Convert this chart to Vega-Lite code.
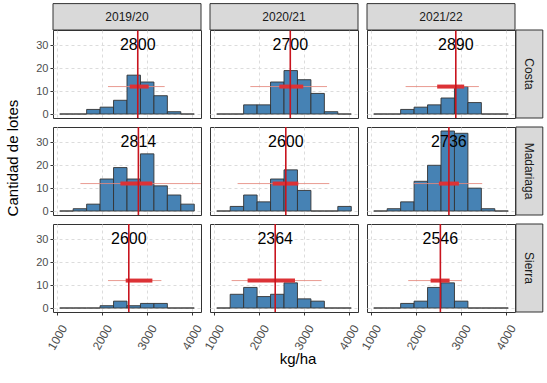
{
  "$schema": "https://vega.github.io/schema/vega-lite/v6.json",
  "background": "white",
  "padding": {"left": 5, "right": 2, "top": 2, "bottom": 5},
  "config": {
    "font": "Liberation Sans",
    "view": {"stroke": "#333333", "strokeWidth": 1},
    "axis": {
      "domain": false,
      "gridColor": "#dcdcdc",
      "gridDash": [3, 3],
      "gridWidth": 1,
      "tickColor": "#333333",
      "tickSize": 3,
      "labelColor": "#4d4d4d",
      "labelFontSize": 11,
      "labelOverlap": false,
      "title": null
    },
    "header": {"titleFontSize": 15, "titleFontWeight": "normal", "titleColor": "#000000", "titleFont": "Liberation Sans"}
  },
  "data": {
    "values": [
      {"t":"h","zona":"Costa","campana":"2019/20","x0":1060,"x1":1360,"n":0},
      {"t":"h","zona":"Costa","campana":"2019/20","x0":1360,"x1":1660,"n":0},
      {"t":"h","zona":"Costa","campana":"2019/20","x0":1660,"x1":1960,"n":2},
      {"t":"h","zona":"Costa","campana":"2019/20","x0":1960,"x1":2260,"n":3},
      {"t":"h","zona":"Costa","campana":"2019/20","x0":2260,"x1":2560,"n":6},
      {"t":"h","zona":"Costa","campana":"2019/20","x0":2560,"x1":2860,"n":17},
      {"t":"h","zona":"Costa","campana":"2019/20","x0":2860,"x1":3160,"n":14},
      {"t":"h","zona":"Costa","campana":"2019/20","x0":3160,"x1":3460,"n":8},
      {"t":"h","zona":"Costa","campana":"2019/20","x0":3460,"x1":3760,"n":1},
      {"t":"h","zona":"Costa","campana":"2019/20","x0":3760,"x1":4060,"n":0},
      {"t":"h","zona":"Costa","campana":"2020/21","x0":1060,"x1":1360,"n":0},
      {"t":"h","zona":"Costa","campana":"2020/21","x0":1360,"x1":1660,"n":0},
      {"t":"h","zona":"Costa","campana":"2020/21","x0":1660,"x1":1960,"n":4},
      {"t":"h","zona":"Costa","campana":"2020/21","x0":1960,"x1":2260,"n":4},
      {"t":"h","zona":"Costa","campana":"2020/21","x0":2260,"x1":2560,"n":14},
      {"t":"h","zona":"Costa","campana":"2020/21","x0":2560,"x1":2860,"n":19},
      {"t":"h","zona":"Costa","campana":"2020/21","x0":2860,"x1":3160,"n":15},
      {"t":"h","zona":"Costa","campana":"2020/21","x0":3160,"x1":3460,"n":9},
      {"t":"h","zona":"Costa","campana":"2020/21","x0":3460,"x1":3760,"n":1},
      {"t":"h","zona":"Costa","campana":"2020/21","x0":3760,"x1":4060,"n":0},
      {"t":"h","zona":"Costa","campana":"2021/22","x0":1060,"x1":1360,"n":0},
      {"t":"h","zona":"Costa","campana":"2021/22","x0":1360,"x1":1660,"n":0},
      {"t":"h","zona":"Costa","campana":"2021/22","x0":1660,"x1":1960,"n":2},
      {"t":"h","zona":"Costa","campana":"2021/22","x0":1960,"x1":2260,"n":3},
      {"t":"h","zona":"Costa","campana":"2021/22","x0":2260,"x1":2560,"n":4},
      {"t":"h","zona":"Costa","campana":"2021/22","x0":2560,"x1":2860,"n":7},
      {"t":"h","zona":"Costa","campana":"2021/22","x0":2860,"x1":3160,"n":12},
      {"t":"h","zona":"Costa","campana":"2021/22","x0":3160,"x1":3460,"n":5},
      {"t":"h","zona":"Costa","campana":"2021/22","x0":3460,"x1":3760,"n":0},
      {"t":"h","zona":"Costa","campana":"2021/22","x0":3760,"x1":4060,"n":0},
      {"t":"h","zona":"Madariaga","campana":"2019/20","x0":1060,"x1":1360,"n":0},
      {"t":"h","zona":"Madariaga","campana":"2019/20","x0":1360,"x1":1660,"n":1},
      {"t":"h","zona":"Madariaga","campana":"2019/20","x0":1660,"x1":1960,"n":3},
      {"t":"h","zona":"Madariaga","campana":"2019/20","x0":1960,"x1":2260,"n":14},
      {"t":"h","zona":"Madariaga","campana":"2019/20","x0":2260,"x1":2560,"n":19},
      {"t":"h","zona":"Madariaga","campana":"2019/20","x0":2560,"x1":2860,"n":14},
      {"t":"h","zona":"Madariaga","campana":"2019/20","x0":2860,"x1":3160,"n":25},
      {"t":"h","zona":"Madariaga","campana":"2019/20","x0":3160,"x1":3460,"n":11},
      {"t":"h","zona":"Madariaga","campana":"2019/20","x0":3460,"x1":3760,"n":7},
      {"t":"h","zona":"Madariaga","campana":"2019/20","x0":3760,"x1":4060,"n":3},
      {"t":"h","zona":"Madariaga","campana":"2020/21","x0":1060,"x1":1360,"n":0},
      {"t":"h","zona":"Madariaga","campana":"2020/21","x0":1360,"x1":1660,"n":2},
      {"t":"h","zona":"Madariaga","campana":"2020/21","x0":1660,"x1":1960,"n":7},
      {"t":"h","zona":"Madariaga","campana":"2020/21","x0":1960,"x1":2260,"n":4},
      {"t":"h","zona":"Madariaga","campana":"2020/21","x0":2260,"x1":2560,"n":14},
      {"t":"h","zona":"Madariaga","campana":"2020/21","x0":2560,"x1":2860,"n":18},
      {"t":"h","zona":"Madariaga","campana":"2020/21","x0":2860,"x1":3160,"n":9},
      {"t":"h","zona":"Madariaga","campana":"2020/21","x0":3160,"x1":3460,"n":0},
      {"t":"h","zona":"Madariaga","campana":"2020/21","x0":3460,"x1":3760,"n":0},
      {"t":"h","zona":"Madariaga","campana":"2020/21","x0":3760,"x1":4060,"n":2},
      {"t":"h","zona":"Madariaga","campana":"2021/22","x0":1060,"x1":1360,"n":0},
      {"t":"h","zona":"Madariaga","campana":"2021/22","x0":1360,"x1":1660,"n":1},
      {"t":"h","zona":"Madariaga","campana":"2021/22","x0":1660,"x1":1960,"n":4},
      {"t":"h","zona":"Madariaga","campana":"2021/22","x0":1960,"x1":2260,"n":13},
      {"t":"h","zona":"Madariaga","campana":"2021/22","x0":2260,"x1":2560,"n":20},
      {"t":"h","zona":"Madariaga","campana":"2021/22","x0":2560,"x1":2860,"n":35},
      {"t":"h","zona":"Madariaga","campana":"2021/22","x0":2860,"x1":3160,"n":34},
      {"t":"h","zona":"Madariaga","campana":"2021/22","x0":3160,"x1":3460,"n":10},
      {"t":"h","zona":"Madariaga","campana":"2021/22","x0":3460,"x1":3760,"n":1},
      {"t":"h","zona":"Madariaga","campana":"2021/22","x0":3760,"x1":4060,"n":0},
      {"t":"h","zona":"Sierra","campana":"2019/20","x0":1060,"x1":1360,"n":0},
      {"t":"h","zona":"Sierra","campana":"2019/20","x0":1360,"x1":1660,"n":0},
      {"t":"h","zona":"Sierra","campana":"2019/20","x0":1660,"x1":1960,"n":0},
      {"t":"h","zona":"Sierra","campana":"2019/20","x0":1960,"x1":2260,"n":1},
      {"t":"h","zona":"Sierra","campana":"2019/20","x0":2260,"x1":2560,"n":3},
      {"t":"h","zona":"Sierra","campana":"2019/20","x0":2560,"x1":2860,"n":1},
      {"t":"h","zona":"Sierra","campana":"2019/20","x0":2860,"x1":3160,"n":2},
      {"t":"h","zona":"Sierra","campana":"2019/20","x0":3160,"x1":3460,"n":2},
      {"t":"h","zona":"Sierra","campana":"2019/20","x0":3460,"x1":3760,"n":0},
      {"t":"h","zona":"Sierra","campana":"2019/20","x0":3760,"x1":4060,"n":0},
      {"t":"h","zona":"Sierra","campana":"2020/21","x0":1060,"x1":1360,"n":0},
      {"t":"h","zona":"Sierra","campana":"2020/21","x0":1360,"x1":1660,"n":6},
      {"t":"h","zona":"Sierra","campana":"2020/21","x0":1660,"x1":1960,"n":9},
      {"t":"h","zona":"Sierra","campana":"2020/21","x0":1960,"x1":2260,"n":5},
      {"t":"h","zona":"Sierra","campana":"2020/21","x0":2260,"x1":2560,"n":6},
      {"t":"h","zona":"Sierra","campana":"2020/21","x0":2560,"x1":2860,"n":11},
      {"t":"h","zona":"Sierra","campana":"2020/21","x0":2860,"x1":3160,"n":4},
      {"t":"h","zona":"Sierra","campana":"2020/21","x0":3160,"x1":3460,"n":3},
      {"t":"h","zona":"Sierra","campana":"2020/21","x0":3460,"x1":3760,"n":0},
      {"t":"h","zona":"Sierra","campana":"2020/21","x0":3760,"x1":4060,"n":0},
      {"t":"h","zona":"Sierra","campana":"2021/22","x0":1060,"x1":1360,"n":0},
      {"t":"h","zona":"Sierra","campana":"2021/22","x0":1360,"x1":1660,"n":0},
      {"t":"h","zona":"Sierra","campana":"2021/22","x0":1660,"x1":1960,"n":2},
      {"t":"h","zona":"Sierra","campana":"2021/22","x0":1960,"x1":2260,"n":3},
      {"t":"h","zona":"Sierra","campana":"2021/22","x0":2260,"x1":2560,"n":9},
      {"t":"h","zona":"Sierra","campana":"2021/22","x0":2560,"x1":2860,"n":11},
      {"t":"h","zona":"Sierra","campana":"2021/22","x0":2860,"x1":3160,"n":3},
      {"t":"h","zona":"Sierra","campana":"2021/22","x0":3160,"x1":3460,"n":0},
      {"t":"h","zona":"Sierra","campana":"2021/22","x0":3460,"x1":3760,"n":0},
      {"t":"h","zona":"Sierra","campana":"2021/22","x0":3760,"x1":4060,"n":0},
      {"t":"s","zona":"Costa","campana":"2019/20","med":2800,"lo":2136,"hi":3400,"q1":2620,"q3":3044},
      {"t":"s","zona":"Costa","campana":"2020/21","med":2700,"lo":1809,"hi":3519,"q1":2455,"q3":2990},
      {"t":"s","zona":"Costa","campana":"2021/22","med":2890,"lo":1771,"hi":3405,"q1":2475,"q3":3077},
      {"t":"s","zona":"Madariaga","campana":"2019/20","med":2814,"lo":1521,"hi":4205,"q1":2413,"q3":3126},
      {"t":"s","zona":"Madariaga","campana":"2020/21","med":2600,"lo":1525,"hi":3570,"q1":2306,"q3":2879},
      {"t":"s","zona":"Madariaga","campana":"2021/22","med":2736,"lo":1956,"hi":3479,"q1":2513,"q3":2959},
      {"t":"s","zona":"Sierra","campana":"2019/20","med":2600,"lo":2136,"hi":3327,"q1":2531,"q3":3126},
      {"t":"s","zona":"Sierra","campana":"2020/21","med":2364,"lo":1392,"hi":3398,"q1":1748,"q3":2805},
      {"t":"s","zona":"Sierra","campana":"2021/22","med":2546,"lo":1829,"hi":3019,"q1":2328,"q3":2752}
    ]
  },
  "facet": {
    "row": {"field": "zona", "type": "nominal", "sort": ["Costa", "Madariaga", "Sierra"],
      "header": {"labels": false, "title": "Cantidad de lotes", "titleOrient": "left", "titlePadding": 4}},
    "column": {"field": "campana", "type": "nominal", "sort": ["2019/20", "2020/21", "2021/22"],
      "header": {"labels": false, "title": "kg/ha", "titleOrient": "bottom", "titlePadding": -10}}
  },
  "spacing": {"row": 9, "column": 9},
  "bounds": "flush",
  "spec": {
    "width": 148,
    "height": 88,
    "layer": [
      {
        "transform": [{"filter": "datum.t == 'h'"}],
        "mark": {"type": "rect", "fill": "#4682B4", "stroke": "#333333", "strokeWidth": 0.9},
        "encoding": {
          "x": {"field": "x0", "type": "quantitative", "title": null,
            "scale": {"domain": [910, 4210], "nice": false, "zero": false},
            "axis": {"values": [1000, 2000, 3000, 4000], "format": "d", "labelAngle": -60, "labelAlign": "center", "labelBaseline": "middle", "labelPadding": 22, "labelFontSize": 12, "title": null}},
          "x2": {"field": "x1"},
          "y": {"field": "n", "type": "quantitative", "title": null,
            "scale": {"domain": [-1.75, 36.75], "nice": false, "zero": false},
            "axis": {"tickCount": 4, "labelPadding": 2, "title": null}}
        }
      },
      {
        "transform": [{"filter": "datum.t == 's'"}],
        "mark": {"type": "rule", "color": "#e58a7e", "strokeWidth": 1, "opacity": 0.85},
        "encoding": {
          "x": {"field": "lo", "type": "quantitative", "title": null},
          "x2": {"field": "hi"},
          "y": {"datum": 12, "type": "quantitative"}
        }
      },
      {
        "transform": [{"filter": "datum.t == 's'"}],
        "mark": {"type": "rule", "color": "#dc3236", "strokeWidth": 4},
        "encoding": {
          "x": {"field": "q1", "type": "quantitative", "title": null},
          "x2": {"field": "q3"},
          "y": {"datum": 12, "type": "quantitative"}
        }
      },
      {
        "transform": [{"filter": "datum.t == 's'"}],
        "mark": {"type": "text", "fontSize": 16, "color": "#000000", "baseline": "middle", "align": "center"},
        "encoding": {
          "x": {"field": "med", "type": "quantitative", "title": null},
          "y": {"datum": 30, "type": "quantitative"},
          "text": {"field": "med", "type": "nominal"}
        }
      },
      {
        "transform": [{"filter": "datum.t == 's'"}],
        "mark": {"type": "rule", "color": "#c8141e", "strokeWidth": 1.6},
        "encoding": {
          "x": {"field": "med", "type": "quantitative", "title": null}
        }
      },
      {
        "transform": [{"filter": "datum.t == 's' && datum.zona == 'Costa'"}],
        "mark": {"type": "rect", "fill": "#d9d9d9", "stroke": "#333333", "strokeWidth": 1, "clip": false},
        "encoding": {
          "x": {"datum": 910, "type": "quantitative"},
          "x2": {"datum": 4210},
          "y": {"datum": 36.75, "type": "quantitative"},
          "y2": {"datum": 48.3}
        }
      },
      {
        "transform": [{"filter": "datum.t == 's' && datum.zona == 'Costa'"}],
        "mark": {"type": "text", "fontSize": 12, "color": "#1a1a1a", "baseline": "middle", "align": "center", "clip": false},
        "encoding": {
          "x": {"datum": 2560, "type": "quantitative"},
          "y": {"datum": 42.5, "type": "quantitative"},
          "text": {"field": "campana", "type": "nominal"}
        }
      },
      {
        "transform": [{"filter": "datum.t == 's' && datum.campana == '2021/22'"}],
        "mark": {"type": "rect", "fill": "#d9d9d9", "stroke": "#333333", "strokeWidth": 1, "clip": false},
        "encoding": {
          "x": {"datum": 4230, "type": "quantitative"},
          "x2": {"datum": 4830},
          "y": {"datum": -1.75, "type": "quantitative"},
          "y2": {"datum": 36.75}
        }
      },
      {
        "transform": [{"filter": "datum.t == 's' && datum.campana == '2021/22'"}],
        "mark": {"type": "text", "fontSize": 12, "color": "#1a1a1a", "baseline": "middle", "align": "center", "angle": 90, "clip": false},
        "encoding": {
          "x": {"datum": 4530, "type": "quantitative"},
          "y": {"datum": 17.5, "type": "quantitative"},
          "text": {"field": "zona", "type": "nominal"}
        }
      }
    ]
  }
}
